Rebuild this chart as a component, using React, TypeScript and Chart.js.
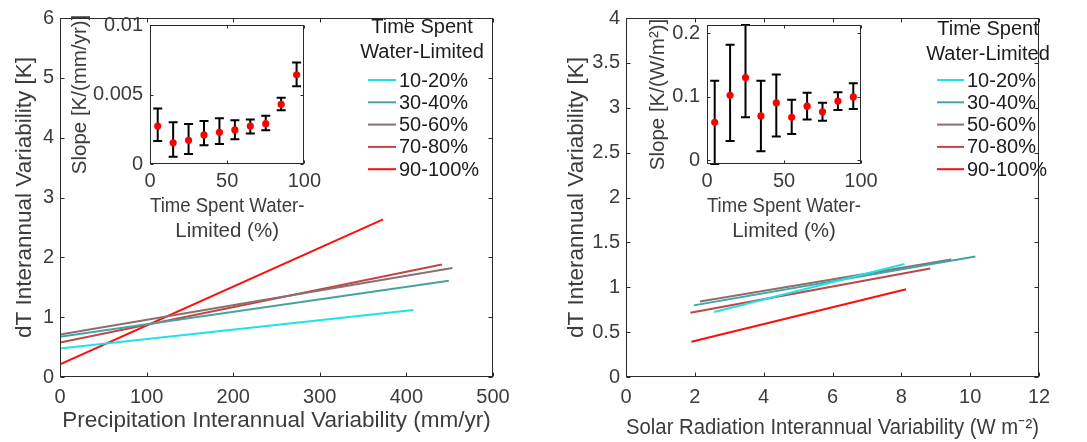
import React, { useEffect, useRef } from 'react';
import { Chart, registerables } from 'chart.js';

Chart.register(...registerables);

const FONT = '"Liberation Sans", Arial, Helvetica, sans-serif';
const TEXT = '#3c3c3c';
const AXIS = '#2a2a2a';

// ---------- data ----------
const groups = ['10-20%', '30-40%', '50-60%', '70-80%', '90-100%'];
const groupColors = ['#1ee3e6', '#45a3a3', '#8c6e6e', '#c04646', '#ff0d0d'];

// left main panel: fitted lines dT vs precipitation variability
const precipX0 = [0, 0, 0, 0, 0];
const precipX1 = [408, 449, 453, 441, 373];
const precipY0 = [0.478, 0.672, 0.71, 0.578, 0.212];
const precipY1 = [1.12, 1.61, 1.82, 1.88, 2.635];

// right main panel: fitted lines dT vs solar radiation variability
const solarX0 = [2.56, 1.97, 2.15, 1.87, 1.9];
const solarX1 = [8.09, 10.15, 9.45, 8.84, 8.14];
const solarY0 = [0.724, 0.798, 0.842, 0.717, 0.393];
const solarY1 = [1.258, 1.342, 1.309, 1.21, 0.978];

// insets: slope vs time spent water-limited
const insetX = [5, 15, 25, 35, 45, 55, 65, 75, 85, 95];
const precipSlope = [0.00273, 0.00153, 0.0017, 0.00209, 0.00228, 0.00245, 0.00273, 0.0029, 0.00429, 0.00642];
const precipSlopeLo = [0.00165, 0.00053, 0.00072, 0.00134, 0.00144, 0.00178, 0.0022, 0.00242, 0.00386, 0.0056];
const precipSlopeHi = [0.004, 0.003, 0.00288, 0.00309, 0.00329, 0.00314, 0.0032, 0.00347, 0.00477, 0.0073];
const solarSlope = [0.0595, 0.102, 0.13, 0.0695, 0.09, 0.0674, 0.085, 0.076, 0.093, 0.0995];
const solarSlopeLo = [-0.0063, 0.03, 0.0675, 0.014, 0.037, 0.041, 0.064, 0.062, 0.079, 0.0805];
const solarSlopeHi = [0.125, 0.182, 0.213, 0.125, 0.135, 0.095, 0.106, 0.0905, 0.107, 0.121];

// tick values
const precipTicks = [0, 100, 200, 300, 400, 500];
const dTLeftTicks = [0, 1, 2, 3, 4, 5, 6];
const solarTicks = [0, 2, 4, 6, 8, 10, 12];
const dTRightTicks = [0, 0.5, 1, 1.5, 2, 2.5, 3, 3.5, 4];
const insetXTicks = [0, 50, 100];
const precipSlopeTicks = [0, 0.005, 0.01];
const solarSlopeTicks = [0, 0.1, 0.2];
const solarSlopeMin = -0.0063;
const solarSlopeMax = 0.213;

const legendTitle = ['Time Spent', 'Water-Limited'];

// ---------- plugins ----------
const frame = {
  id: 'frame',
  beforeDraw(chart: any, _a: any, o: any) {
    if (!o || !o.fill) return;
    const { left, top, right, bottom } = chart.chartArea;
    const ctx = chart.ctx;
    ctx.save();
    ctx.fillStyle = o.fill;
    ctx.fillRect(left, top, right - left, bottom - top);
    ctx.restore();
  },
  afterDatasetsDraw(chart: any, _a: any, o: any) {
    const { left, top, right, bottom } = chart.chartArea;
    const ctx = chart.ctx;
    const L = o.tickLength || 4;
    ctx.save();
    ctx.strokeStyle = AXIS;
    ctx.lineWidth = 1;
    const l = Math.round(left) + 0.5, r = Math.round(right) - 0.5;
    const t = Math.round(top) + 0.5, b = Math.round(bottom) - 0.5;
    ctx.strokeRect(l, t, r - l, b - t);
    ctx.beginPath();
    const xs = chart.scales.x, ys = chart.scales.y;
    for (const tk of xs.ticks) {
      const p = Math.round(xs.getPixelForValue(tk.value)) + 0.5;
      ctx.moveTo(p, b); ctx.lineTo(p, b - L);
      ctx.moveTo(p, t); ctx.lineTo(p, t + L);
    }
    for (const tk of ys.ticks) {
      const p = Math.round(ys.getPixelForValue(tk.value)) + 0.5;
      ctx.moveTo(l, p); ctx.lineTo(l + L, p);
      ctx.moveTo(r, p); ctx.lineTo(r - L, p);
    }
    ctx.stroke();
    ctx.restore();
  },
};

const errorBars = {
  id: 'errorBars',
  beforeDatasetsDraw(chart: any, _a: any, o: any) {
    if (!o || !o.lo) return;
    const xs = chart.scales.x, ys = chart.scales.y;
    const ctx = chart.ctx;
    const xsVals: number[] = o.x;
    ctx.save();
    ctx.strokeStyle = '#000';
    ctx.lineWidth = 2;
    ctx.beginPath();
    xsVals.forEach((xv, i) => {
      const x = xs.getPixelForValue(xv);
      const yl = ys.getPixelForValue(o.lo[i]);
      const yh = ys.getPixelForValue(o.hi[i]);
      ctx.moveTo(x, yl); ctx.lineTo(x, yh);
      ctx.moveTo(x - o.cap, yl); ctx.lineTo(x + o.cap, yl);
      ctx.moveTo(x - o.cap, yh); ctx.lineTo(x + o.cap, yh);
    });
    ctx.stroke();
    ctx.restore();
  },
};

const legendBlock = {
  id: 'legendBlock',
  afterDraw(chart: any, _a: any, o: any) {
    if (!o || !o.title) return;
    const ctx = chart.ctx;
    ctx.save();
    ctx.font = `20px ${FONT}`;
    ctx.fillStyle = '#1c1c1c';
    ctx.textBaseline = 'middle';
    ctx.textAlign = 'center';
    o.title.forEach((s: string, i: number) => ctx.fillText(s, o.titleX, o.titleY[i]));
    ctx.textAlign = 'left';
    chart.data.datasets.forEach((ds: any, i: number) => {
      const y = o.entryY0 + i * o.entryDY;
      ctx.strokeStyle = ds.borderColor;
      ctx.lineWidth = 2;
      ctx.beginPath();
      ctx.moveTo(o.lineX0, y); ctx.lineTo(o.lineX1, y);
      ctx.stroke();
      ctx.fillText(ds.label, o.textX, y + 1);
    });
    ctx.restore();
  },
};

// ---------- config builders ----------
function axis(opts: any) {
  const { min, max, ticks, size, pad, title, titleFont, titlePad, tickFont = 20 } = opts;
  return {
    type: 'linear',
    min,
    max,
    grid: { display: false, drawTicks: false },
    border: { display: false },
    afterBuildTicks: (s: any) => { s.ticks = ticks.map((v: number) => ({ value: v })); },
    afterFit: (s: any) => { if (s.isHorizontal()) s.height = size; else s.width = size; },
    ticks: {
      padding: pad,
      autoSkip: false,
      maxRotation: 0,
      font: { family: FONT, size: tickFont },
      color: TEXT,
      callback: (v: any) => String(v),
    },
    title: {
      display: true,
      text: title,
      font: titleFont,
      color: TEXT,
      padding: titlePad,
    },
  };
}

function lineDatasets(x0: number[], y0: number[], x1: number[], y1: number[]) {
  return groups.map((g, i) => ({
    label: g,
    data: [{ x: x0[i], y: y0[i] }, { x: x1[i], y: y1[i] }],
    showLine: true,
    borderColor: groupColors[i],
    backgroundColor: groupColors[i],
    borderWidth: 2,
    pointRadius: 0,
  }));
}

const mainTitleFont = { family: FONT, size: 22.5 };
const insetTitleFont = { family: FONT, size: 20.5, lineHeight: '25px' };

function leftMainConfig(): any {
  return {
    type: 'scatter',
    data: { datasets: lineDatasets(precipX0, precipY0, precipX1, precipY1) },
    options: {
      animation: false, responsive: false, events: [],
      layout: { padding: { top: 15, right: 47, bottom: 0, left: 0 } },
      scales: {
        x: axis({ min: 0, max: 500, ticks: precipTicks, size: 65, pad: 8,
          title: 'Precipitation Interannual Variability (mm/yr)', titleFont: mainTitleFont, titlePad: { top: 0, bottom: 7.5 } }),
        y: axis({ min: 0, max: 6, ticks: dTLeftTicks, size: 60, pad: 6,
          title: 'dT Interannual Variability [K]', titleFont: mainTitleFont, titlePad: { top: 11.5, bottom: 0 } }),
      },
      plugins: {
        legend: { display: false }, tooltip: { enabled: false },
        frame: { tickLength: 4 },
        legendBlock: { title: legendTitle, titleX: 422, titleY: [27.5, 52.5], lineX0: 368, lineX1: 396, textX: 399, entryY0: 80, entryDY: 22.3 },
      },
    },
    plugins: [frame, legendBlock],
  };
}

function rightMainConfig(): any {
  return {
    type: 'scatter',
    data: { datasets: lineDatasets(solarX0, solarY0, solarX1, solarY1) },
    options: {
      animation: false, responsive: false, events: [],
      layout: { padding: { top: 15, right: 48, bottom: 0, left: 0 } },
      scales: {
        x: axis({ min: 0, max: 12, ticks: solarTicks, size: 65, pad: 8,
          title: 'Solar Radiation Interannual Variability (W m\u207B\u00B2)', titleFont: mainTitleFont, titlePad: { top: 0, bottom: 1 } }),
        y: axis({ min: 0, max: 4, ticks: dTRightTicks, size: 83, pad: 6,
          title: 'dT Interannual Variability [K]', titleFont: mainTitleFont, titlePad: { top: 20.5, bottom: 0 } }),
      },
      plugins: {
        legend: { display: false }, tooltip: { enabled: false },
        frame: { tickLength: 4 },
        legendBlock: { title: legendTitle, titleX: 445, titleY: [29.5, 54.5], lineX0: 394, lineX1: 421, textX: 424, entryY0: 80, entryDY: 22.3 },
      },
    },
    plugins: [frame, legendBlock],
  };
}

function insetConfig(o: any): any {
  return {
    type: 'scatter',
    data: {
      datasets: [{
        label: 'slope',
        data: insetX.map((x, i) => ({ x, y: o.y[i] })),
        pointRadius: 3.6,
        pointBackgroundColor: '#ff0000',
        pointBorderWidth: 0,
        borderWidth: 0,
      }],
    },
    options: {
      animation: false, responsive: false, events: [],
      layout: { padding: { top: 25, right: o.padRight, bottom: 0, left: 0 } },
      scales: {
        x: axis({ min: 0, max: 100, ticks: insetXTicks, size: 86, pad: 5,
          title: ['Time Spent Water-', 'Limited (%)'], titleFont: insetTitleFont, titlePad: { top: 0, bottom: 6.5 } }),
        y: axis({ min: o.min, max: o.max, ticks: o.ticks, size: o.yWidth, pad: 7,
          title: o.title, titleFont: { family: FONT, size: 20.5 }, titlePad: { top: o.yTitlePad, bottom: 0 } }),
      },
      plugins: {
        legend: { display: false }, tooltip: { enabled: false },
        frame: { tickLength: 3, fill: '#ffffff' },
        errorBars: { x: insetX, lo: o.lo, hi: o.hi, cap: 4.5 },
      },
    },
    plugins: [frame, errorBars],
  };
}

// ---------- components ----------
function ChartCanvas({ x, y, w, h, build }: { x: number; y: number; w: number; h: number; build: () => any }) {
  const ref = useRef<HTMLCanvasElement>(null);
  useEffect(() => {
    const chart = new Chart(ref.current as HTMLCanvasElement, build());
    return () => chart.destroy();
  }, []);
  return (
    <canvas
      ref={ref}
      width={w}
      height={h}
      style={{ position: 'absolute', left: x, top: y, width: w, height: h }}
    />
  );
}

export default function App() {
  return (
    <div style={{ position: 'fixed', left: 0, top: 0, width: 1087, height: 442, background: '#fff', overflow: 'hidden' }}>
      <ChartCanvas x={0} y={0} w={540} h={442} build={leftMainConfig} />
      <ChartCanvas x={543} y={0} w={544} h={442} build={rightMainConfig} />
      <ChartCanvas
        x={62} y={0} w={264} h={250}
        build={() => insetConfig({
          y: precipSlope, lo: precipSlopeLo, hi: precipSlopeHi,
          min: 0, max: 0.01, ticks: precipSlopeTicks,
          title: 'Slope [K/(mm/yr)]', yWidth: 88, yTitlePad: 5.7, padRight: 20,
        })}
      />
      <ChartCanvas
        x={610} y={0} w={274} h={250}
        build={() => insetConfig({
          y: solarSlope, lo: solarSlopeLo, hi: solarSlopeHi,
          min: solarSlopeMin, max: solarSlopeMax, ticks: solarSlopeTicks,
          title: 'Slope [K/(W/m\u00B2)]', yWidth: 97, yTitlePad: 35.7, padRight: 23,
        })}
      />
    </div>
  );
}
